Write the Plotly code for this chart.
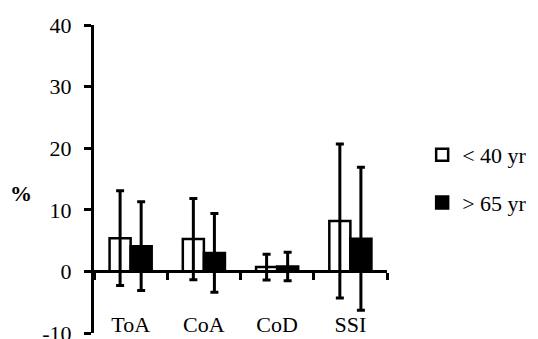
import plotly.graph_objects as go

categories = ["ToA", "CoA", "CoD", "SSI"]
young_vals = [5.4, 5.25, 0.7, 8.2]
young_err = [7.7, 6.6, 2.1, 12.5]
old_vals = [4.1, 3.0, 0.8, 5.3]
old_err = [7.2, 6.4, 2.3, 11.6]
series_names = ["< 40 yr", "> 65 yr"]
y_ticks = [-10, 0, 10, 20, 30, 40]
y_ticktext = ["-10", "0", "10", "20", "30", "40"]

FONT = "Liberation Serif, Times New Roman, serif"

fig = go.Figure()
fig.add_trace(go.Bar(
    x=categories, y=young_vals, name=series_names[0], legendgroup="a",
    marker=dict(color="white", line=dict(color="black", width=2.5)),
    error_y=dict(type="data", array=young_err, visible=True, color="black", thickness=3, width=4),
))
fig.add_trace(go.Bar(
    x=categories, y=old_vals, name=series_names[1], legendgroup="b",
    marker=dict(color="black", line=dict(color="black", width=2.5)),
    error_y=dict(type="data", array=old_err, visible=True, color="black", thickness=3, width=4),
))

# page body has an 8px default margin, so the figure is sized/offset to fit the window
fig.update_layout(
    width=530, height=331,
    margin=dict(l=86, r=151, t=17, b=6),
    paper_bgcolor="white", plot_bgcolor="white",
    font=dict(family=FONT, size=22, color="black"),
    barmode="group", bargap=0.425, bargroupgap=0,
    showlegend=True,
    legend=dict(x=1.12, y=0.5, xanchor="left", yanchor="middle",
                font=dict(family=FONT, size=22), tracegroupgap=16,
                bgcolor="rgba(0,0,0,0)"),
    xaxis=dict(type="category", range=[-0.5, 3.5], anchor="free", position=0.2,
               automargin=False,
               showline=True, linecolor="black", linewidth=2.5,
               ticks="outside", ticklen=7, tickwidth=2.5, tickcolor="black",
               tickson="boundaries", showgrid=False, zeroline=False,
               ticklabelstandoff=32, tickfont=dict(family=FONT, size=22)),
    yaxis=dict(range=[-10, 40], tickvals=y_ticks, ticktext=y_ticktext, automargin=False,
               showline=True, linecolor="black",
               linewidth=3, ticks="outside", ticklen=7, tickwidth=3, tickcolor="black",
               showgrid=False, zeroline=False, ticklabelstandoff=8,
               ticklabeloverflow="allow",
               tickfont=dict(family=FONT, size=22)),
    annotations=[dict(text="<b>%</b>", xref="paper", yref="y", x=-0.294, y=12.7,
                      showarrow=False, font=dict(family=FONT, size=22))],
)

fig.write_html("out.html")
